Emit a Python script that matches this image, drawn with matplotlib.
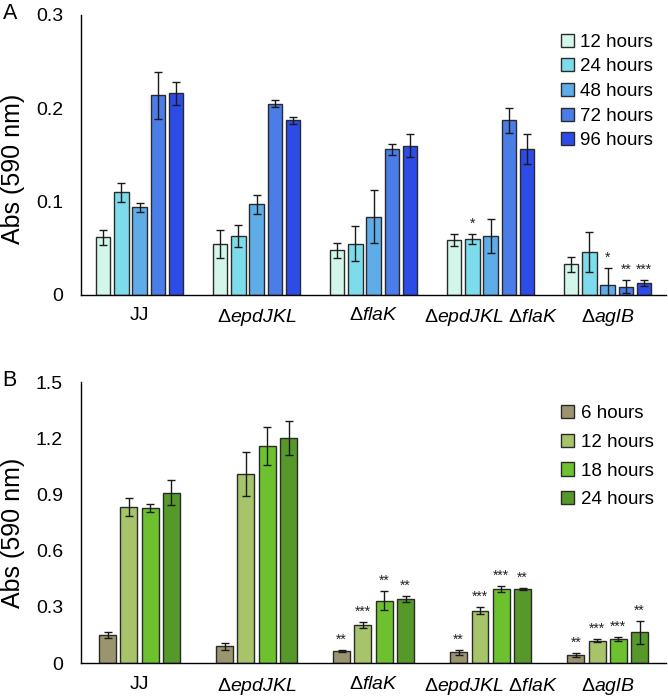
import numpy as np
import matplotlib
matplotlib.use('Agg')
import matplotlib.pyplot as plt

plt.rcParams['font.family'] = ['Liberation Sans', 'DejaVu Sans']
plt.rcParams['mathtext.fontset'] = 'custom'
plt.rcParams['mathtext.rm'] = 'Liberation Sans'
plt.rcParams['mathtext.it'] = 'Liberation Sans:italic'

# strains (x categories)
strains = ['JJ', 'Δ$\\mathit{epdJKL}$', 'Δ$\\mathit{flaK}$',
           'Δ$\\mathit{epdJKL}$ Δ$\\mathit{flaK}$', 'Δ$\\mathit{aglB}$']

# panel A
hours_a = ['12 hours', '24 hours', '48 hours', '72 hours', '96 hours']
colors_a = ['#d2f7ea', '#7ddcec', '#5eace8', '#4a7de8', '#2d4be6']
means_a = [
    [0.062, 0.055, 0.048, 0.059, 0.033],
    [0.110, 0.063, 0.055, 0.060, 0.046],
    [0.094, 0.097, 0.084, 0.063, 0.011],
    [0.214, 0.205, 0.156, 0.187, 0.009],
    [0.216, 0.187, 0.160, 0.156, 0.013],
]
err_a = [
    [0.008, 0.015, 0.008, 0.006, 0.008],
    [0.010, 0.012, 0.019, 0.005, 0.021],
    [0.005, 0.010, 0.028, 0.018, 0.018],
    [0.025, 0.004, 0.006, 0.013, 0.007],
    [0.012, 0.004, 0.012, 0.016, 0.003],
]
# (strain index, series index, label)
stars_a = [(3, 1, '*'), (4, 2, '*'), (4, 3, '**'), (4, 4, '***')]

# panel B
hours_b = ['6 hours', '12 hours', '18 hours', '24 hours']
colors_b = ['#9a956e', '#a7c46b', '#6ec12e', '#569829']
means_b = [
    [0.150, 0.090, 0.066, 0.057, 0.044],
    [0.835, 1.010, 0.203, 0.279, 0.119],
    [0.827, 1.160, 0.333, 0.395, 0.128],
    [0.910, 1.200, 0.342, 0.395, 0.163],
]
err_b = [
    [0.015, 0.018, 0.005, 0.012, 0.010],
    [0.048, 0.116, 0.014, 0.018, 0.007],
    [0.021, 0.101, 0.050, 0.018, 0.010],
    [0.068, 0.090, 0.018, 0.005, 0.062],
]
stars_b = [(2, 0, '**'), (2, 1, '***'), (2, 2, '**'), (2, 3, '**'),
           (3, 0, '**'), (3, 1, '***'), (3, 2, '***'), (3, 3, '**'),
           (4, 0, '**'), (4, 1, '***'), (4, 2, '***'), (4, 3, '**')]


def draw_panel(ax, means, errs, labels, colors, pitch, width, stars, ymax, yticks, ytick_labels, label_y):
    x = np.arange(len(strains))
    n = len(means)
    for i in range(n):
        xi = x + (i - (n - 1) / 2) * pitch
        ax.bar(xi, means[i], width, color=colors[i], edgecolor='#2a2a2a', linewidth=1.0,
               label=labels[i], zorder=2)
        ax.errorbar(xi, means[i], yerr=errs[i], fmt='none', ecolor='#1a1a1a',
                    elinewidth=1.0, capsize=3, capthick=1.0, zorder=3)
    for g, s, txt in stars:
        xs = g + (s - (n - 1) / 2) * pitch
        ys = means[s][g] + errs[s][g]
        ax.annotate(txt, (xs, ys), xytext=(0, 4.5), textcoords='offset points',
                    ha='center', va='baseline', fontsize=10, color='#222222')
    ax.set_xlim(-0.5, len(strains) - 0.5)
    ax.set_ylim(0, ymax)
    ax.set_yticks(yticks)
    ax.set_yticklabels(ytick_labels)
    ax.set_xticks(x)
    ax.set_xticklabels(strains)
    ax.tick_params(axis='both', length=0, labelsize=14)
    ax.tick_params(axis='y', pad=13)
    ax.tick_params(axis='x', pad=9)
    for side in ['top', 'right']:
        ax.spines[side].set_visible(False)
    ax.spines['left'].set_linewidth(1.0)
    ax.spines['bottom'].set_linewidth(1.0)
    ax.set_ylabel('Abs (590 nm)', fontsize=18)
    ax.yaxis.set_label_coords(-0.095, label_y)


fig = plt.figure(figsize=(6.68, 6.99), dpi=100)
ax_a = fig.add_axes([0.1213, 0.578, 0.876, 0.4006])
ax_b = fig.add_axes([0.1213, 0.0515, 0.876, 0.402])

draw_panel(ax_a, means_a, err_a, hours_a, colors_a, 0.156, 0.124, stars_a,
           0.3, [0, 0.1, 0.2, 0.3], ['0', '0.1', '0.2', '0.3'], 0.45)
draw_panel(ax_b, means_b, err_b, hours_b, colors_b, 0.182, 0.145, stars_b,
           1.5, [0, 0.3, 0.6, 0.9, 1.2, 1.5], ['0', '0.3', '0.6', '0.9', '1.2', '1.5'], 0.463)

ax_a.legend(loc='upper right', bbox_to_anchor=(0.991, 0.96), frameon=False, fontsize=13.5,
            handlelength=0.7, handleheight=0.7, handletextpad=0.35, labelspacing=0.4,
            borderaxespad=0)
ax_b.legend(loc='upper right', bbox_to_anchor=(0.991, 0.945), frameon=False, fontsize=13.5,
            handlelength=0.7, handleheight=0.7, handletextpad=0.35, labelspacing=0.62,
            borderaxespad=0)

fig.text(0.004, 0.981, 'A', fontsize=15.5, va='center', ha='left')
fig.text(0.004, 0.4557, 'B', fontsize=15.5, va='center', ha='left')

fig.savefig('out.png', dpi=100)
